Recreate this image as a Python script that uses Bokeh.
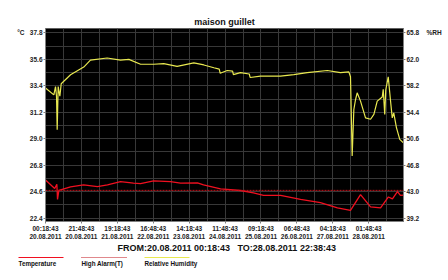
from bokeh.plotting import figure
from bokeh.layouts import column
from bokeh.models import Range1d, LinearAxis, FixedTicker, Span
from bokeh.core.properties import value
from bokeh.embed import file_html
from bokeh.resources import INLINE

# ---- data (hours since 20.08.2011 00:18:43) ----
hours_T = [0, 5.5, 6.8, 7.2, 8.0, 15.0, 22.8, 31.1, 37.1, 44.9, 52.7, 56.9, 64.7, 74.8,
           80.8, 91.0, 94.6, 104.8, 116.7, 124.5, 130.5, 140.7, 152.7, 164.6, 174.8,
           182.6, 188.6, 194.6, 200.6, 205.3, 207.7, 210.7, 212.5, 214.3]
temp = [25.57, 24.85, 25.2, 23.95, 24.7, 25.0, 25.16, 25.02, 25.16, 25.43, 25.3, 25.27,
        25.49, 25.43, 25.3, 25.32, 25.16, 24.83, 24.69, 24.5, 24.28, 24.28, 23.95, 23.68,
        23.24, 23.04, 24.34, 23.32, 23.24, 24.15, 24.0, 24.6, 24.28, 24.3]

hours_RH = [0, 5.0, 6.0, 6.6, 7.0, 7.6, 8.6, 9.4, 15.0, 22.9, 26.9, 36.9, 44.9, 49.9,
            56.9, 64.8, 70.8, 78.8, 88.8, 94.8, 100.8, 104.0, 104.6, 108.8, 112.0, 112.5,
            116.7, 122.0, 122.5, 128.7, 140.7, 148.7, 156.7, 168.7, 176.6, 181.6, 182.6,
            183.6, 184.6, 185.6, 186.6, 188.6, 191.6, 194.6, 196.6, 198.6, 201.6, 202.2,
            203.1, 203.7, 205.2, 206.5, 207.6, 208.5, 210.1, 212.1, 214.3]
rh = [57.9, 56.9, 58.1, 56.7, 51.9, 58.1, 56.7, 58.5, 59.8, 60.9, 61.9, 62.2, 61.9, 62.0,
      61.3, 61.3, 61.4, 61.0, 61.5, 61.2, 60.8, 60.6, 60.0, 60.4, 60.3, 59.8, 60.1, 59.9,
      59.4, 59.6, 59.6, 59.8, 60.1, 60.4, 60.1, 60.2, 59.5, 48.1, 54.8, 56.2, 57.2, 56.0,
      53.6, 53.4, 54.1, 56.0, 56.6, 57.7, 54.1, 57.6, 59.5, 56.2, 53.6, 54.3, 52.2, 50.5,
      50.0]

high_alarm_T = 24.7

x_tick_hours = [0, 21.5, 43.0, 64.5, 86.0, 107.5, 129.0, 150.5, 172.0, 193.5]
x_tick_labels = ["00:18:43\n20.08.2011", "21:48:43\n20.08.2011", "19:18:43\n21.08.2011",
                 "16:48:43\n22.08.2011", "14:18:43\n23.08.2011", "11:48:43\n24.08.2011",
                 "09:18:43\n25.08.2011", "06:48:43\n26.08.2011", "04:18:43\n27.08.2011",
                 "01:48:43\n28.08.2011"]
t_ticks = [22.4, 24.6, 26.8, 29.0, 31.2, 33.4, 35.6, 37.8]
t_labels = ["22.4", "24.6", "26.8", "29.0", "31.2", "33.4", "35.6", "37.8"]
rh_ticks = [39.2, 43.0, 46.8, 50.6, 54.4, 58.2, 62.0, 65.8]
rh_labels = ["39.2", "43.0", "46.8", "50.6", "54.4", "58.2", "62.0", "65.8"]
t_unit = "°C"
rh_unit = "%RH"

title_text = "maison guillet"
period_texts = ["FROM:20.08.2011 00:18:43", "TO:28.08.2011 22:38:43"]
series_names = ["Temperature", "High Alarm(T)", "Relative Humidity"]

FONT = "Liberation Sans"
RED = "#f01020"
ALARM = "#c01018"
YEL = "#e8e850"
W = 448
H_MAIN, H_LEG = 242, 38

p = figure(width=W, height=H_MAIN, output_backend="svg", toolbar_location=None,
           x_range=Range1d(0, 214.333), y_range=Range1d(22.11, 38.17),
           min_border_left=45, min_border_right=45, min_border_top=28, min_border_bottom=19,
           background_fill_color="black", border_fill_color="white",
           outline_line_color="#606060", title=title_text)
p.frame_align = False
p.title.align = "center"
p.title.text_font = FONT
p.title.text_font_size = "9px"
p.title.text_font_style = "bold"
p.title.text_color = "#111111"
p.title.standoff = 4
p.extra_y_ranges = {"rh": Range1d(38.70, 66.44)}

# grids
step_x = (x_tick_hours[1] - x_tick_hours[0]) / 2
p.xgrid.ticker = FixedTicker(ticks=[i * step_x for i in range(0, 21)])
step_y = (t_ticks[1] - t_ticks[0]) / 2
p.ygrid.ticker = FixedTicker(ticks=[t_ticks[0] + i * step_y for i in range(0, 15)])
for g in (p.xgrid, p.ygrid):
    g.grid_line_color = "#383838"
    g.grid_line_width = 1

def style_axis(ax, standoff=1):
    ax.major_label_text_font = FONT
    ax.major_label_text_font_size = "6.5px"
    ax.major_label_text_font_style = "bold"
    ax.major_label_text_color = "#222222"
    ax.axis_line_color = "#808080"
    ax.major_tick_line_color = "#808080"
    ax.major_tick_out = 2
    ax.major_tick_in = 0
    ax.minor_tick_line_color = None
    ax.major_label_standoff = standoff

xa = p.xaxis[0]
xa.ticker = FixedTicker(ticks=x_tick_hours)
xa.major_label_overrides = {t: l for t, l in zip(x_tick_hours, x_tick_labels)}
style_axis(xa)

ya = p.yaxis[0]
ya.ticker = FixedTicker(ticks=t_ticks)
ya.major_label_overrides = {t: l for t, l in zip(t_ticks, t_labels)}
style_axis(ya)

# unit label as outer left axis tick label
ua = LinearAxis(ticker=FixedTicker(ticks=[t_ticks[-1]]))
ua.major_label_overrides = {t_ticks[-1]: t_unit}
style_axis(ua, standoff=0)
ua.axis_line_color = None
ua.major_tick_line_color = None
p.add_layout(ua, "left")

ra = LinearAxis(y_range_name="rh", ticker=FixedTicker(ticks=rh_ticks))
ra.major_label_overrides = {t: l for t, l in zip(rh_ticks, rh_labels)}
style_axis(ra)
p.add_layout(ra, "right")

rua = LinearAxis(y_range_name="rh", ticker=FixedTicker(ticks=[rh_ticks[-1]]))
rua.major_label_overrides = {rh_ticks[-1]: rh_unit}
style_axis(rua, standoff=2)
rua.axis_line_color = None
rua.major_tick_line_color = None
p.add_layout(rua, "right")

# series
p.line(hours_RH, rh, y_range_name="rh", line_color=YEL, line_width=1.2)
p.line(hours_T, temp, line_color=RED, line_width=1.3)
p.add_layout(Span(location=high_alarm_T, dimension="width", line_color=ALARM,
                  line_width=1, line_dash="2 1"))

# ---- bottom strip: period text and legend (page pixel coordinates) ----
top_y = H_MAIN
q = figure(width=W, height=H_LEG, output_backend="svg", toolbar_location=None,
           x_range=Range1d(0, W), y_range=Range1d(top_y + H_LEG, top_y),
           x_axis_type=None, y_axis_type=None,
           min_border_left=0, min_border_right=0, min_border_top=0, min_border_bottom=0,
           background_fill_color="white", border_fill_color="white",
           outline_line_color=None)
q.frame_align = False
q.xgrid.visible = False
q.ygrid.visible = False

q.text(x=[117, 237], y=[247, 247], text=period_texts, text_font=value(FONT),
       text_font_size="9px", text_font_style="bold", text_color="#111111",
       text_baseline="middle", text_align="left")

leg_x = [18, 81, 144]
leg_len = 45
q.segment(x0=[leg_x[0], leg_x[2]], y0=[257, 257], x1=[leg_x[0] + leg_len, leg_x[2] + leg_len],
          y1=[257, 257], line_color=[RED, YEL], line_width=1)
q.segment(x0=[leg_x[1]], y0=[257], x1=[leg_x[1] + leg_len], y1=[257],
          line_color=ALARM, line_width=1, line_dash="1 1")
q.text(x=leg_x, y=[263, 263, 263], text=series_names, text_font=value(FONT),
       text_font_size="6.3px", text_font_style="bold", text_color="#111111",
       text_baseline="middle", text_align="left")

layout = column(p, q, spacing=0)
open("out.html", "w").write(file_html(layout, INLINE))
